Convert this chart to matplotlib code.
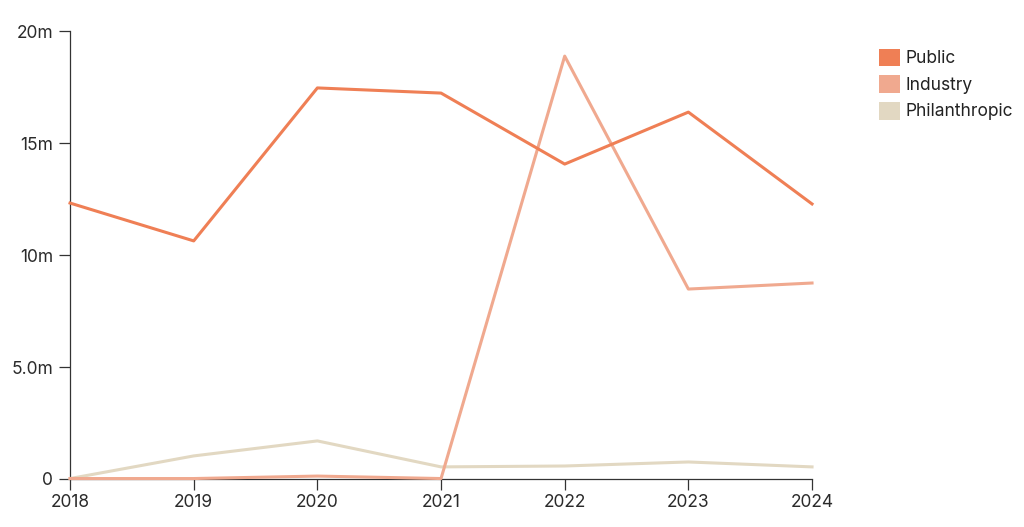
import numpy as np
import matplotlib
matplotlib.use("Agg")
import matplotlib.pyplot as plt
from matplotlib.patches import Patch

plt.rcParams['font.family'] = ['Inter', 'DejaVu Sans']

# funding by year (millions)
years = [2018, 2019, 2020, 2021, 2022, 2023, 2024]
public = [12.32, 10.63, 17.46, 17.23, 14.06, 16.38, 12.28]
industry = [0.02, 0.02, 0.13, 0.02, 18.88, 8.48, 8.75]
philanthropic = [0.02, 1.03, 1.70, 0.54, 0.58, 0.76, 0.54]

series_names = ["Public", "Industry", "Philanthropic"]
colors = ["#ef7f55", "#f0a98f", "#e2d8c2"]

yticks = [0, 5, 10, 15, 20]
ylabels = ["0", "5.0m", "10m", "15m", "20m"]

fig = plt.figure(figsize=(10.24, 5.27), dpi=100)
ax = fig.add_axes([0.0684, 0.0911, 0.7246, 0.8500])

# draw from back to front
ax.plot(years, philanthropic, color=colors[2], lw=2.2, zorder=2, clip_on=False)
ax.plot(years, industry, color=colors[1], lw=2.2, zorder=3, clip_on=False)
ax.plot(years, public, color=colors[0], lw=2.2, zorder=4, clip_on=False)

ax.set_xlim(2018, 2024)
ax.set_ylim(0, 20)
ax.set_xticks(years)
ax.set_xticklabels([str(y) for y in years])
ax.set_yticks(yticks)
ax.set_yticklabels(ylabels)

for s in ["top", "right"]:
    ax.spines[s].set_visible(False)
for s in ["left", "bottom"]:
    ax.spines[s].set_color("#333333")
    ax.spines[s].set_linewidth(0.9)
    ax.spines[s].set_zorder(1)

ax.tick_params(axis="both", length=8, width=0.9, color="#333333",
               labelsize=12.5, labelcolor="#2a2a2a", pad=3)
ax.tick_params(axis="y", pad=4)

handles = [Patch(facecolor=c, edgecolor="none") for c in colors]
fig.legend(handles, series_names, loc="upper left", bbox_to_anchor=(0.852, 0.921),
           frameon=False, fontsize=12.5, handlelength=1.2, handleheight=1.2,
           handletextpad=0.3, labelspacing=0.45, borderaxespad=0,
           labelcolor="#222222")

fig.savefig("out.png", dpi=100)
